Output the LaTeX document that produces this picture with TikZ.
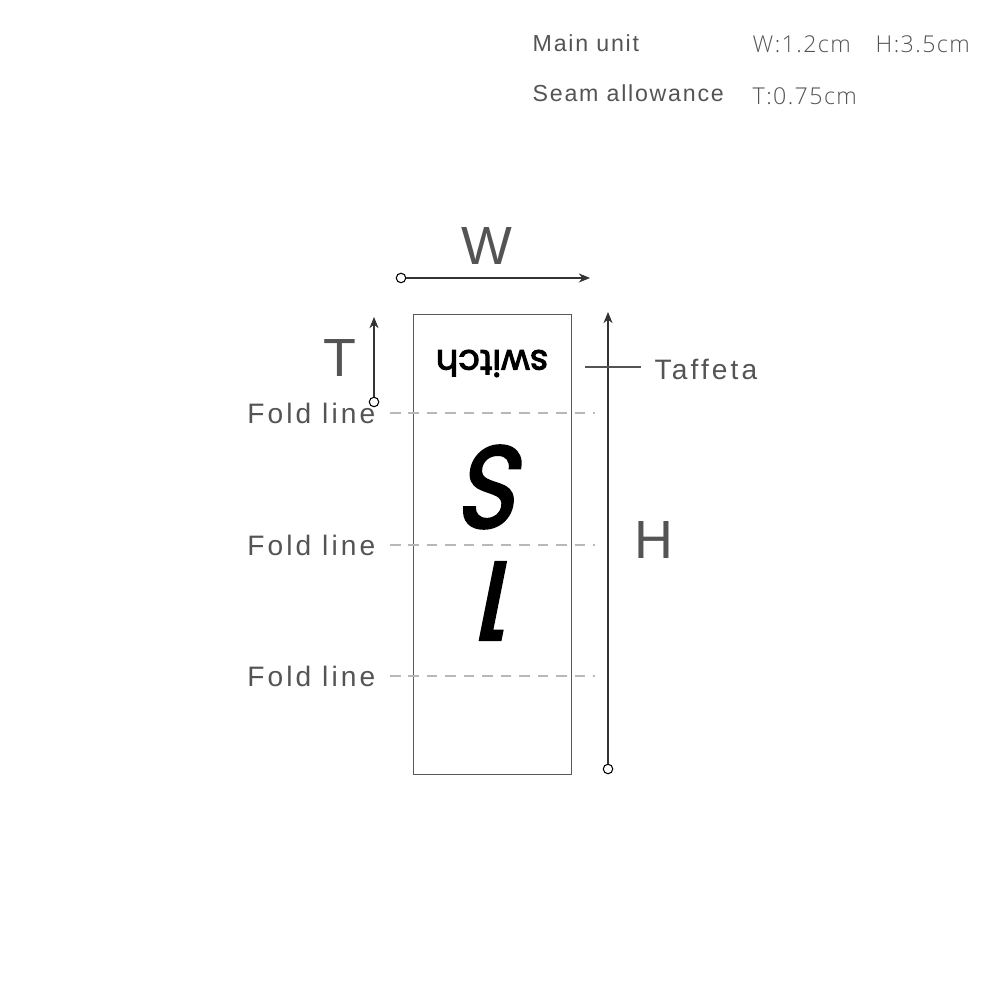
\documentclass[tikz,border=0pt]{standalone}
\usepackage{fontspec}
\setmainfont{Liberation Sans}
\newfontfamily\labelfont[LetterSpace=11]{Liberation Sans}
\newfontfamily\headfont[LetterSpace=7.5]{Liberation Sans}
\newfontfamily\topfont[LetterSpace=6]{Open Sans Light}
\newfontfamily\brandfont[FakeBold=3]{Poppins}
\newfontfamily\markfont[FakeBold=2.5]{Poppins}
\usetikzlibrary{arrows.meta}
\definecolor{inkgray}{gray}{0.33}
\definecolor{foldgray}{gray}{0.72}
\tikzset{
  txt/.style={inner sep=0pt, text=inkgray, font=\fontsize{8}{10}\labelfont},
  headtxt/.style={inner sep=0pt, text=inkgray, font=\fontsize{6.6}{8}\headfont, anchor=base west},
  toptxt/.style={inner sep=0pt, text=inkgray, font=\fontsize{6.6}{8}\topfont, anchor=base west},
  big/.style={inner sep=0pt, text=inkgray, font=\fontsize{15.3}{18}\selectfont},
  dot/.style={circle, draw=black, fill=white, line width=0.3pt, minimum size=2.7pt, inner sep=0pt},
  dim/.style={draw=black!80, line width=0.3pt, -{Stealth[length=3.2pt, width=2.6pt]}},
  fold/.style={draw=foldgray, line width=0.5pt, dash pattern=on 3pt off 2.25pt},
  mark letter/.style={rotate=180, inner sep=0pt, xslant=0.2},
}
\begin{document}
\begin{tikzpicture}
    \useasboundingbox (0, 0) rectangle (10, 10);

    % label
    \node[draw=black!65, line width=0.28pt, minimum width=1.575cm, minimum height=4.59cm, inner sep=0pt] (unit) at (4.925, 4.555) {};
    \node[rotate=180, inner sep=0pt, font=\fontsize{10}{11}\brandfont] (brand) at (4.92, 6.365) {switch};
    \node[mark letter, xscale=0.88, font=\fontsize{33}{36}\markfont] (size) at (4.92, 5.13) {S};
    \node[mark letter, font=\fontsize{30.5}{36}\markfont] (num) at (4.95, 3.99) {1};

    % fold lines
    \foreach \n/\y in {a/5.87, b/4.55, c/3.24} {
      \coordinate (f\n l) at (3.90, \y);
      \coordinate (f\n r) at (5.95, \y);
      \draw[fold] (f\n l) -- (f\n r);
      \node[txt, anchor=east] (t\n) at (3.76, \y) {Fold line};
    }

    % W
    \node[dot] (wstart) at (4.01, 7.22) {};
    \coordinate (wend) at (5.90, 7.22);
    \draw[dim] (wstart) -- (wend);
    \node[big] (wlab) at (4.87, 7.54) {W};

    % T
    \node[dot] (tstart) at (3.74, 5.98) {};
    \coordinate (tend) at (3.74, 6.83);
    \draw[dim] (tstart) -- (tend);
    \node[big] (tlab) at (3.40, 6.415) {T};

    % H
    \node[dot] (hstart) at (6.08, 2.31) {};
    \coordinate (hend) at (6.08, 6.88);
    \draw[dim] (hstart) -- (hend);
    \node[big] (hlab) at (6.535, 4.60) {H};

    % Taffeta
    \coordinate (tafa) at (5.85, 6.33);
    \coordinate (tafb) at (6.41, 6.33);
    \draw[draw=inkgray, line width=0.45pt] (tafa) -- (tafb);
    \node[txt, anchor=west] (taffeta) at (6.54, 6.31) {Taffeta};

    % sizes
    \node[headtxt] (main) at (5.32, 9.48) {Main unit};
    \node[headtxt] (seam) at (5.32, 8.98) {Seam allowance};
    \node[toptxt] (wval) at (7.52, 9.47) {W:1.2cm};
    \node[toptxt] (hval) at (8.75, 9.47) {H:3.5cm};
    \node[toptxt] (tval) at (7.52, 8.95) {T:0.75cm};
\end{tikzpicture}
\end{document}
